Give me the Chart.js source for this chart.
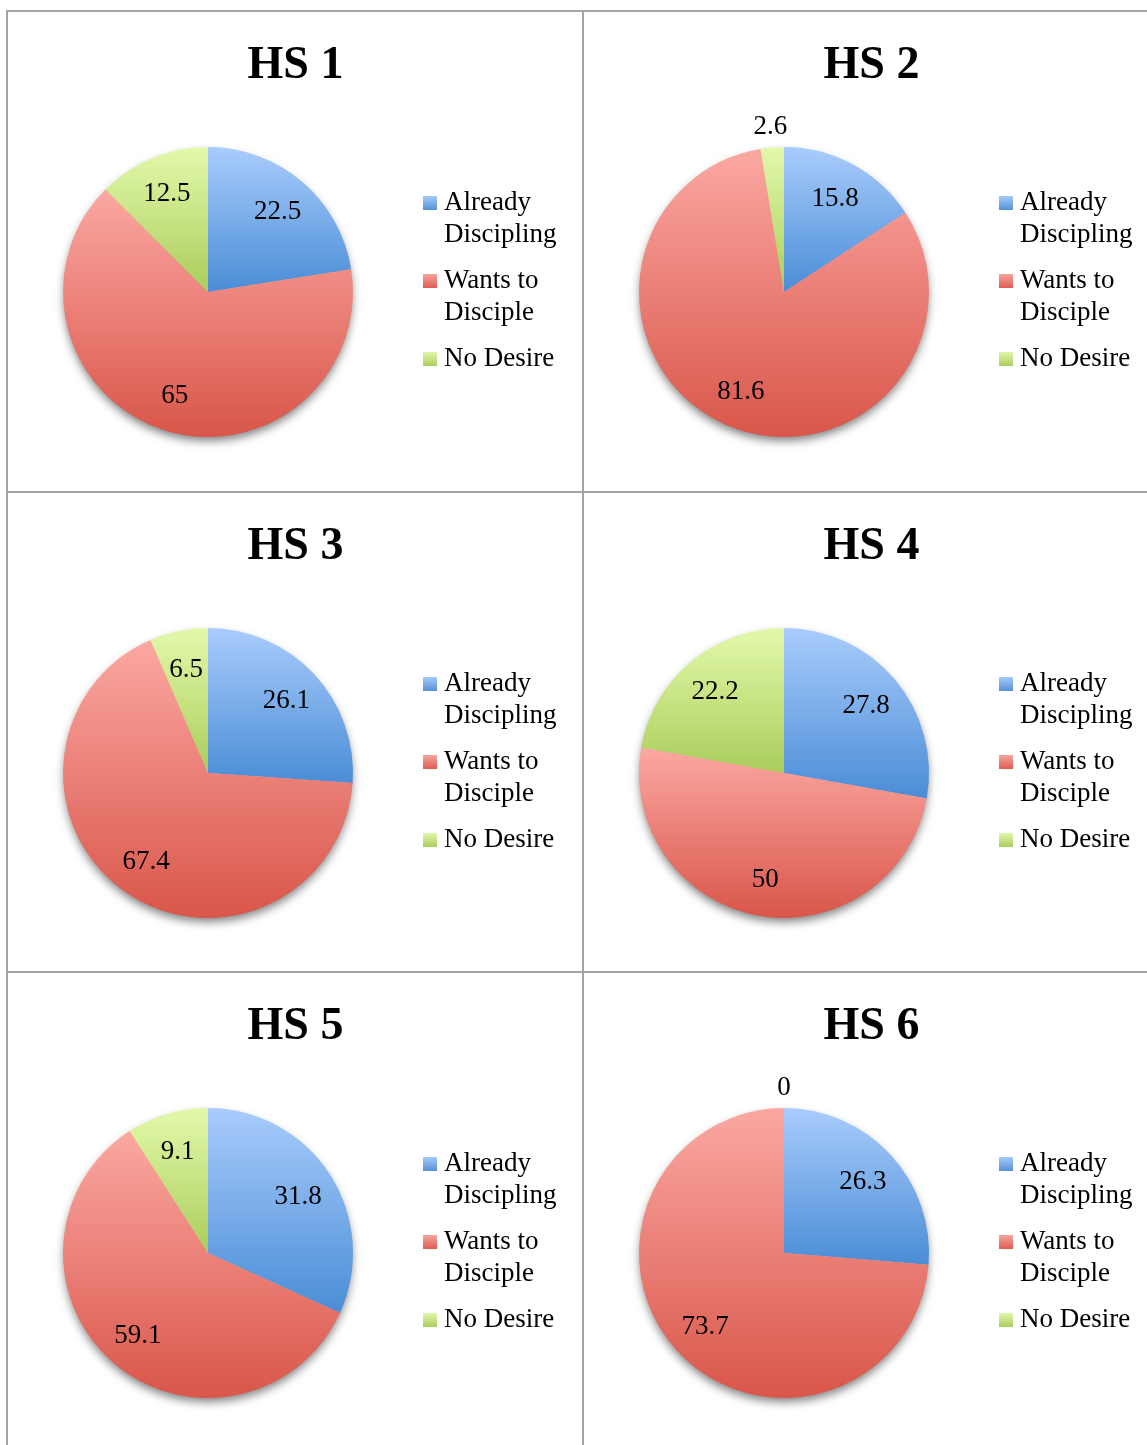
<!DOCTYPE html>
<html>
<head>
<meta charset="utf-8">
<title>Discipling by high school</title>
<script src="https://cdn.jsdelivr.net/npm/chart.js@4.4.1/dist/chart.umd.min.js"></script>
<style>
  html, body { margin: 0; padding: 0; background: #fff; }
  #page { position: relative; width: 1147px; height: 1445px; overflow: hidden; }
  #page canvas { position: absolute; z-index: 1; }
  .rule { position: absolute; background: #a4a4a4; z-index: 2; }
</style>
</head>
<body>
<div id="page">
  <div class="rule" style="left:6px;top:10px;width:1141px;height:2px"></div>
  <div class="rule" style="left:6px;top:10px;width:2px;height:1435px"></div>
  <div class="rule" style="left:582px;top:10px;width:2px;height:1435px"></div>
  <div class="rule" style="left:6px;top:491px;width:1141px;height:2px"></div>
  <div class="rule" style="left:6px;top:971px;width:1141px;height:2px"></div>
</div>
<script>
const chartTitles = ["HS 1", "HS 2", "HS 3", "HS 4", "HS 5", "HS 6"];
const categories = [["Already", "Discipling"], ["Wants to", "Disciple"], "No Desire"];
const alreadyDiscipling = [22.5, 15.8, 26.1, 27.8, 31.8, 26.3];
const wantsToDisciple = [65, 81.6, 67.4, 50, 59.1, 73.7];
const noDesire = [12.5, 2.6, 6.5, 22.2, 9.1, 0];

// light (top) -> dark (bottom) for each slice colour
const sliceShades = [
  ["#a9ccfc", "#4a8dd6"],
  ["#fba8a2", "#d9564a"],
  ["#e3f9ab", "#aacd5b"]
];
const keyShades = [
  ["#a6c9f8", "#5592d8"],
  ["#f7a49e", "#de5d52"],
  ["#e0f7ab", "#a9cd5d"]
];

const FONT = '"Liberation Serif", "Times New Roman", serif';
const KEY_SIZE = 27;
const PIE_R = 145;
const CELL_W = 576, CELL_H = 481;
const PIE_CX = 208, PIE_CY = 292;
const KEY_TEXT_X = 444, TITLE_CX = 295.5;

const page = document.getElementById("page");

// width of the longest legend line, measured the way the legend does it
const probe = document.createElement("canvas").getContext("2d");
probe.font = KEY_SIZE + "px " + FONT;
const keyTextW = Math.max(...categories.map(c => {
  const t = Array.isArray(c) ? c.reduce((a, b) => a.length > b.length ? a : b) : c;
  return probe.measureText(t).width;
}));

const keyGap = Math.max(1, Math.round(2 * TITLE_CX - 2 * PIE_CX - 37.5 - keyTextW));
const keyLeft = KEY_TEXT_X - KEY_SIZE / 2 - 14 - keyGap;
const padLeft = 2 * PIE_CX - keyLeft;
const padRight = CELL_W - (keyLeft + 14 + keyGap + KEY_SIZE / 2 + keyTextW + 10);

function keySwatch(shades) {
  const c = document.createElement("canvas");
  c.width = keyGap + 13;
  c.height = 14;
  const g = c.getContext("2d");
  const grad = g.createLinearGradient(0, 0, 0, 14);
  grad.addColorStop(0, shades[0]);
  grad.addColorStop(1, shades[1]);
  g.fillStyle = grad;
  g.fillRect(keyGap - 1, 0, 14, 14);
  return c;
}
const swatches = keyShades.map(keySwatch);

// gradient over each slice's own bounding box
function sliceFill(c) {
  const k = c.dataIndex;
  const shades = sliceShades[k];
  const area = c.chart.chartArea;
  if (!area || c.type !== "data") return shades[1];
  const vals = c.dataset.data;
  const total = vals.reduce((a, b) => a + b, 0);
  const before = vals.slice(0, k).reduce((a, b) => a + b, 0);
  const a0 = -Math.PI / 2 + 2 * Math.PI * before / total;
  const a1 = a0 + 2 * Math.PI * vals[k] / total;
  const cy = (area.top + area.bottom) / 2;
  const ys = [cy, cy + PIE_R * Math.sin(a0), cy + PIE_R * Math.sin(a1)];
  [-Math.PI / 2, Math.PI / 2, 3 * Math.PI / 2].forEach(t => {
    if (t > a0 && t < a1) ys.push(cy + PIE_R * Math.sin(t));
  });
  const top = Math.min(...ys), bottom = Math.max(...ys);
  if (bottom - top < 1) return shades[0];
  const grad = c.chart.ctx.createLinearGradient(0, top, 0, bottom);
  grad.addColorStop(0, shades[0]);
  grad.addColorStop(1, shades[1]);
  return grad;
}

const pieShadow = {
  id: "pieShadow",
  beforeDatasetsDraw(chart) {
    const arc = chart.getDatasetMeta(0).data[0];
    const { x, y, outerRadius } = arc.getProps(["x", "y", "outerRadius"], true);
    const ctx = chart.ctx;
    ctx.save();
    ctx.shadowColor = "rgba(0,0,0,0.5)";
    ctx.shadowBlur = 10;
    ctx.shadowOffsetY = 5;
    ctx.fillStyle = "#e8a09a";
    ctx.beginPath();
    ctx.arc(x, y, outerRadius - 1, 0, Math.PI * 2);
    ctx.fill();
    ctx.restore();
  }
};

const valueLabels = {
  id: "valueLabels",
  afterDatasetsDraw(chart) {
    const vals = chart.data.datasets[0].data;
    const total = vals.reduce((a, b) => a + b, 0);
    const ctx = chart.ctx;
    ctx.save();
    ctx.font = KEY_SIZE + "px " + FONT;
    ctx.fillStyle = "#000";
    ctx.textAlign = "center";
    ctx.textBaseline = "middle";
    chart.getDatasetMeta(0).data.forEach((arc, i) => {
      const p = arc.getProps(["x", "y", "startAngle", "endAngle", "outerRadius"], true);
      const mid = (p.startAngle + p.endAngle) / 2;
      const d = vals[i] / total < 0.05 ? p.outerRadius + 22 : p.outerRadius * 0.74;
      ctx.fillText(String(vals[i]), p.x + Math.cos(mid) * d, p.y + Math.sin(mid) * d + 1.5);
    });
    ctx.restore();
  }
};

function drawPie(i) {
  const canvas = document.createElement("canvas");
  canvas.width = CELL_W;
  canvas.height = CELL_H;
  canvas.style.left = (i % 2) * CELL_W + "px";
  canvas.style.top = Math.round(Math.floor(i / 2) * 480.5) + "px";
  page.appendChild(canvas);

  const values = [alreadyDiscipling[i], wantsToDisciple[i], noDesire[i]];

  const chart = new Chart(canvas, {
    type: "pie",
    data: {
      labels: categories,
      datasets: [{
        data: values,
        backgroundColor: sliceFill,
        borderWidth: 0,
        hoverOffset: 0,
        radius: PIE_R
      }]
    },
    options: {
      responsive: false,
      animation: false,
      devicePixelRatio: 1,
      events: [],
      layout: {
        padding: { left: padLeft, right: padRight, top: 0, bottom: CELL_H - (PIE_CY + 152) }
      },
      plugins: {
        title: {
          display: true,
          text: chartTitles[i],
          color: "#000",
          font: { family: FONT, size: 46, weight: "bold", lineHeight: 1.2 },
          padding: { top: 38.6, bottom: 46.2 }
        },
        legend: {
          position: "right",
          align: "start",
          fullSize: false,
          title: { display: true, text: "", font: { size: 10, lineHeight: 1 }, padding: { top: 25.5, bottom: 0 } },
          labels: {
            usePointStyle: true,
            pointStyleWidth: keyGap,
            padding: 14,
            color: "#000",
            font: { family: FONT, size: KEY_SIZE, lineHeight: "32px" },
            generateLabels: () => categories.map((c, k) => ({
              text: c,
              fillStyle: keyShades[k][1],
              strokeStyle: "rgba(0,0,0,0)",
              lineWidth: 0,
              pointStyle: swatches[k],
              fontColor: "#000",
              hidden: false,
              index: k
            }))
          }
        },
        tooltip: { enabled: false }
      }
    },
    plugins: [pieShadow, valueLabels]
  });

  const err = chart.chartArea.right - keyLeft;
  if (Math.abs(err) > 0.25) {
    chart.options.layout.padding.right += err;
    chart.update();
  }
}

chartTitles.forEach((t, i) => drawPie(i));
</script>
</body>
</html>
